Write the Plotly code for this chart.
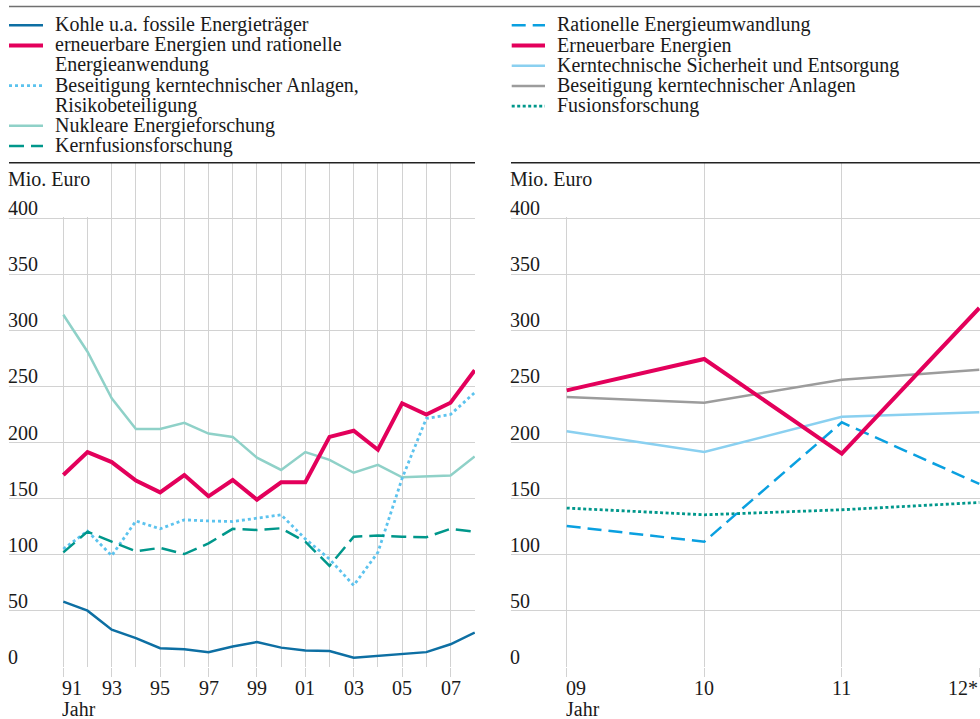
import plotly.graph_objects as go

W, H = 980, 719

# ---------------- data ----------------
years_left = list(range(1991, 2009))
kohle = [58, 50, 33, 25.5, 16.5, 15.5, 13, 18, 22, 17, 14.5, 14, 8, 9.5, 11, 13, 20, 30.5]
erneuerbar_rational = [171, 191.5, 182.5, 166, 155.5, 171, 152, 166.5, 149, 164.5, 164.5, 205, 210.5, 193.5, 235, 225, 235.5, 264.5]
beseitigung_risiko = [105, 121, 99, 130, 123, 131, 130, 129.5, 132.5, 135.5, 114, 96, 72.5, 102, 168, 221.5, 225, 244.5]
nukleare = [314, 281, 239.5, 212, 212, 217.5, 208, 205, 186.5, 175.5, 191.5, 184.5, 173, 180, 169, 169.5, 170.5, 187.5]
kernfusion = [102, 120.5, 111.5, 103, 106, 100.5, 110, 123, 122, 123.5, 111.5, 90, 116, 117, 116, 115.5, 123, 120.5]

years_right = [2009, 2010, 2011, 2012]
rationelle = [125.5, 111.5, 218, 163]
erneuerbare = [246.5, 274.5, 190, 320]
kerntechnik = [210, 191.5, 223, 227]
beseitigung = [240.5, 235.5, 256, 265]
fusion = [141.5, 135.5, 140, 146.5]

left_tick_years = list(range(1991, 2008, 2))
left_tick_labels = ["91", "93", "95", "97", "99", "01", "03", "05", "07"]
left_minor_years = list(range(1992, 2009, 2))
right_tick_years = [2009, 2010, 2011, 2012]
right_tick_labels = ["09", "10", "11", "12*"]
y_ticks = [0, 50, 100, 150, 200, 250, 300, 350, 400]

left_names = ["Kohle u.a. fossile Energieträger",
              "erneuerbare Energien und rationelle<br>Energieanwendung",
              "Beseitigung kerntechnischer Anlagen,<br>Risikobeteiligung",
              "Nukleare Energieforschung",
              "Kernfusionsforschung"]
right_names = ["Rationelle Energieumwandlung",
               "Erneuerbare Energien",
               "Kerntechnische Sicherheit und Entsorgung",
               "Beseitigung kerntechnischer Anlagen",
               "Fusionsforschung"]

# ---------------- styles ----------------
FONT = "Liberation Serif, Times New Roman, serif"
FS = 20
TXT = "#1a1a1a"
GRID = "#d2d2d2"

C_KOHLE = "#0d6fa3"
C_RED = "#e3005b"
C_DOTBLUE = "#5cc3ee"
C_NUK = "#8fd1c8"
C_TEAL = "#00978b"
C_DASHBLUE = "#0aa0e0"
C_LIGHTBLUE = "#8ad0f0"
C_GRAY = "#9c9c9c"

left_styles = [
    dict(color=C_KOHLE, width=2.5, dash="solid"),
    dict(color=C_RED, width=4, dash="solid"),
    dict(color=C_DOTBLUE, width=2.8, dash="3px,3px"),
    dict(color=C_NUK, width=2.5, dash="solid"),
    dict(color=C_TEAL, width=2.5, dash="15px,7px"),
]
right_styles = [
    dict(color=C_DASHBLUE, width=2.5, dash="14px,7px"),
    dict(color=C_RED, width=4, dash="solid"),
    dict(color=C_LIGHTBLUE, width=2.5, dash="solid"),
    dict(color=C_GRAY, width=2.5, dash="solid"),
    dict(color=C_TEAL, width=2.8, dash="3px,2.5px"),
]

def px_x(x):
    return x / W

def px_y(y):
    return 1 - y / H

# geometry
y_dom = [px_y(666.7), px_y(162.7)]
y_top = 449.6
xl_dom = [px_x(9), px_x(475)]
xr_dom = [px_x(511), 1.0]
xl_range = [1988.756, 2008.012]
xr_range = [2008.595, 2012.005]

fig = go.Figure()

left_series = [kohle, erneuerbar_rational, beseitigung_risiko, nukleare, kernfusion]
draw_order_left = [3, 2, 4, 0, 1]
for i in draw_order_left:
    fig.add_trace(go.Scatter(x=years_left, y=left_series[i], mode="lines",
                             line=left_styles[i], name=left_names[i].replace("<br>", " "),
                             xaxis="x", yaxis="y", showlegend=False, hoverinfo="x+y+name"))

right_series = [rationelle, erneuerbare, kerntechnik, beseitigung, fusion]
draw_order_right = [3, 2, 4, 0, 1]
for i in draw_order_right:
    fig.add_trace(go.Scatter(x=years_right, y=right_series[i], mode="lines",
                             line=right_styles[i], name=right_names[i],
                             xaxis="x2", yaxis="y2", showlegend=False, hoverinfo="x+y+name"))

xcommon = dict(showline=False, zeroline=False, showticklabels=False,
               showgrid=True, gridcolor=GRID, gridwidth=1,
               ticks="outside", ticklen=9, tickcolor=GRID, tickwidth=1)
ycommon = dict(range=[0, y_top], domain=y_dom, tickmode="array", tickvals=y_ticks,
               showgrid=True, gridcolor=GRID, gridwidth=1.2, showline=False,
               zeroline=False, showticklabels=False, ticks="", fixedrange=True)

fig.update_layout(
    width=W, height=H,
    margin=dict(l=0, r=0, t=0, b=0),
    paper_bgcolor="white", plot_bgcolor="white",
    showlegend=False,
    font=dict(family=FONT, size=FS, color=TXT),
    xaxis=dict(domain=xl_dom, range=xl_range, anchor="y",
               tickmode="array", tickvals=left_tick_years,
               minor=dict(tickmode="array", tickvals=left_minor_years, showgrid=True,
                          gridcolor=GRID, gridwidth=1, ticks=""),
               **xcommon),
    yaxis=dict(anchor="x", **ycommon),
    xaxis2=dict(domain=xr_dom, range=xr_range, anchor="y2",
                tickmode="array", tickvals=right_tick_years, **xcommon),
    yaxis2=dict(anchor="x2", **ycommon),
)

shapes = []
# white blocks hiding vertical grid behind unit label
shapes.append(dict(type="rect", layer="between", xref="x", yref="y",
                   x0=xl_range[0], x1=1992.35, y0=401.2, y1=y_top,
                   fillcolor="white", line=dict(width=0)))
shapes.append(dict(type="rect", layer="between", xref="x2", yref="y2",
                   x0=xr_range[0], x1=2009.25, y0=401.2, y1=y_top,
                   fillcolor="white", line=dict(width=0)))
# top rules
shapes.append(dict(type="line", xref="paper", yref="paper", x0=px_x(9), x1=1.0,
                   y0=px_y(6.5), y1=px_y(6.5), line=dict(color="#707070", width=1.5)))
shapes.append(dict(type="line", xref="paper", yref="paper", x0=xl_dom[0], x1=xl_dom[1],
                   y0=px_y(162.7), y1=px_y(162.7), line=dict(color="#222222", width=1.5)))
shapes.append(dict(type="line", xref="paper", yref="paper", x0=xr_dom[0], x1=1.0,
                   y0=px_y(162.7), y1=px_y(162.7), line=dict(color="#222222", width=1.5)))

annotations = []

def txt(x, y, text, xanchor="left", xref="paper", yref="paper", yshift=0, height=None):
    pad = 3 if height is None else 2
    xs = -pad if xanchor == "left" else 0
    a = dict(x=x, y=y, xref=xref, yref=yref, text=text, showarrow=False,
             xanchor=xanchor, yanchor="middle", yshift=yshift, xshift=xs,
             font=dict(family=FONT, size=FS, color=TXT))
    if height is not None:
        a["height"] = height
        a["borderpad"] = 0
    annotations.append(a)

# legend (manual)
def legend_block(x_line0, x_line1, x_text, rows_y, names, styles, line_y_off=1.0, row_h=20.1):
    k = 0
    for name, st in zip(names, styles):
        parts = name.split("<br>")
        yc = rows_y + k * row_h
        shapes.append(dict(type="line", xref="paper", yref="paper",
                           x0=px_x(x_line0), x1=px_x(x_line1),
                           y0=px_y(yc + line_y_off), y1=px_y(yc + line_y_off),
                           line=dict(color=st["color"], width=st["width"], dash=st["dash"])))
        for p in parts:
            txt(px_x(x_text), px_y(rows_y + k * row_h), p)
            k += 1

legend_block(9, 43, 56, 24.8, left_names, left_styles, line_y_off=0.5)
legend_block(511.7, 545, 558.3, 24.8, right_names, right_styles, line_y_off=0.5, row_h=20.2)

# unit labels
txt(px_x(9), px_y(179), "Mio. Euro")
txt(px_x(511), px_y(179), "Mio. Euro")

# y tick labels above gridlines
for v in y_ticks:
    txt(px_x(9), v, str(v), yref="y", yshift=10)
    txt(px_x(511), v, str(v), yref="y2", yshift=10)

# x tick labels (compact boxes so they stack like the reference)
HB = 20
for i, (yv, lab) in enumerate(zip(left_tick_years, left_tick_labels)):
    txt(yv, px_y(688), lab, xanchor="left" if i == 0 else "center", xref="x", height=HB)
for i, (yv, lab) in enumerate(zip(right_tick_years, right_tick_labels)):
    anc = "left" if i == 0 else ("right" if i == len(right_tick_years) - 1 else "center")
    x = yv if i < len(right_tick_years) - 1 else 2011.995
    txt(x, px_y(688), lab, xanchor=anc, xref="x2", height=HB)
txt(left_tick_years[0], px_y(708.8), "Jahr", xref="x", height=HB)
txt(right_tick_years[0], px_y(708.8), "Jahr", xref="x2", height=HB)

fig.update_layout(shapes=shapes, annotations=annotations)
fig.write_html("out.html", config={"displayModeBar": False},
               post_script="document.body.style.margin='0';document.body.style.overflow='hidden';")
